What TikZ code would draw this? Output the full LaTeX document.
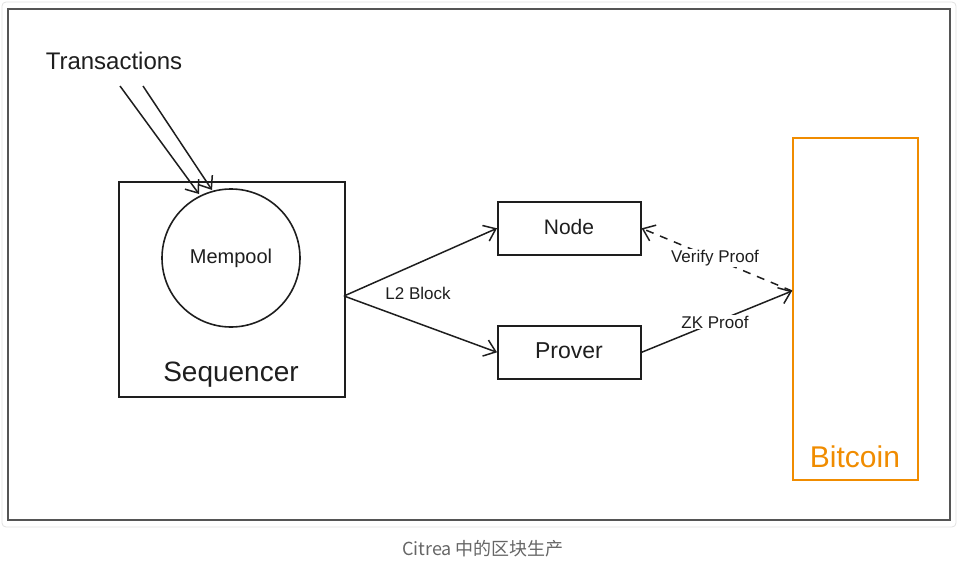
\documentclass[tikz,border=0pt]{standalone}
\usepackage{fontspec}
\setmainfont{Liberation Sans}
\newfontfamily\cjk{Noto Sans CJK SC}
\usetikzlibrary{arrows.meta}
\definecolor{ink}{HTML}{1E1E1E}
\definecolor{btc}{HTML}{F08C00}
\definecolor{framec}{HTML}{555555}
\definecolor{capc}{HTML}{666666}
\tikzset{
  x=1pt,y=-1pt,
  shp/.style={draw=ink,line width=1.6pt,inner sep=0pt},
  lbl/.style={text=ink,font=\fontsize{17}{20}\selectfont,inner sep=1pt},
  conn/.style={draw=ink,line width=1.5pt,-{Straight Barb[length=11pt,width=17pt,line width=1.5pt]}},
}
\begin{document}
\begin{tikzpicture}
\useasboundingbox (0,0) rectangle (966,565);
\draw[draw=black!12,line width=0.8pt,rounded corners=4pt] (2,2) rectangle (956,527);
\draw[draw=framec,line width=2.2pt] (8,9) rectangle (950,520);

% Sequencer
\node[shp,minimum width=226pt,minimum height=215pt,anchor=north west] (seq) at (118,181) {};
\node[text=ink,font=\fontsize{28}{30}\selectfont] (seqt) at (231,375) {Sequencer};
\node[shp,circle,minimum size=138pt] (mem) at (231,258) {};
\node[text=ink,font=\fontsize{20}{24}\selectfont] (memt) at (231,258) {Mempool};

% Transactions
\node[text=ink,font=\fontsize{24}{26}\selectfont] (tx) at (114,61) {Transactions};
\coordinate (t1s) at (120,86);
\coordinate (t1e) at (199,194);
\coordinate (t2s) at (143,86);
\coordinate (t2e) at (212,190);
\draw[conn] (t1s) -- (t1e);
\draw[conn] (t2s) -- (t2e);

% Node and Prover
\node[shp,minimum width=143pt,minimum height=53pt,anchor=north west] (node) at (497,201) {};
\node[text=ink,font=\fontsize{21}{24}\selectfont] (nodet) at (569,227) {Node};
\node[shp,minimum width=143pt,minimum height=53pt,anchor=north west] (prover) at (497,325) {};
\node[text=ink,font=\fontsize{23}{26}\selectfont] (provert) at (569,351) {Prover};

% Bitcoin
\node[shp,draw=btc,minimum width=125pt,minimum height=342pt,anchor=north west] (btc) at (792,137) {};
\node[text=btc,font=\fontsize{30}{32}\selectfont] (btct) at (855,457) {Bitcoin};

% connectors
\coordinate (ls) at (344,296);
\coordinate (btcin) at (792,291);
\draw[conn] (ls) -- (node.west);
\draw[conn] (ls) -- (prover.west);
\node[lbl] (l2) at (418,293) {L2 Block};
\draw[conn,dash pattern=on 8pt off 7pt] (btcin) -- (node.east);
\draw[conn] (prover.east) -- (btcin);
\node[lbl,fill=white] (vp) at (715,258) {Verify Proof};
\node[lbl,fill=white] (zk) at (715,322) {ZK Proof};

% caption
\node[text=capc,font=\cjk\fontsize{18}{20}\selectfont] (cap) at (483,549) {Citrea 中的区块生产};
\end{tikzpicture}
\end{document}
